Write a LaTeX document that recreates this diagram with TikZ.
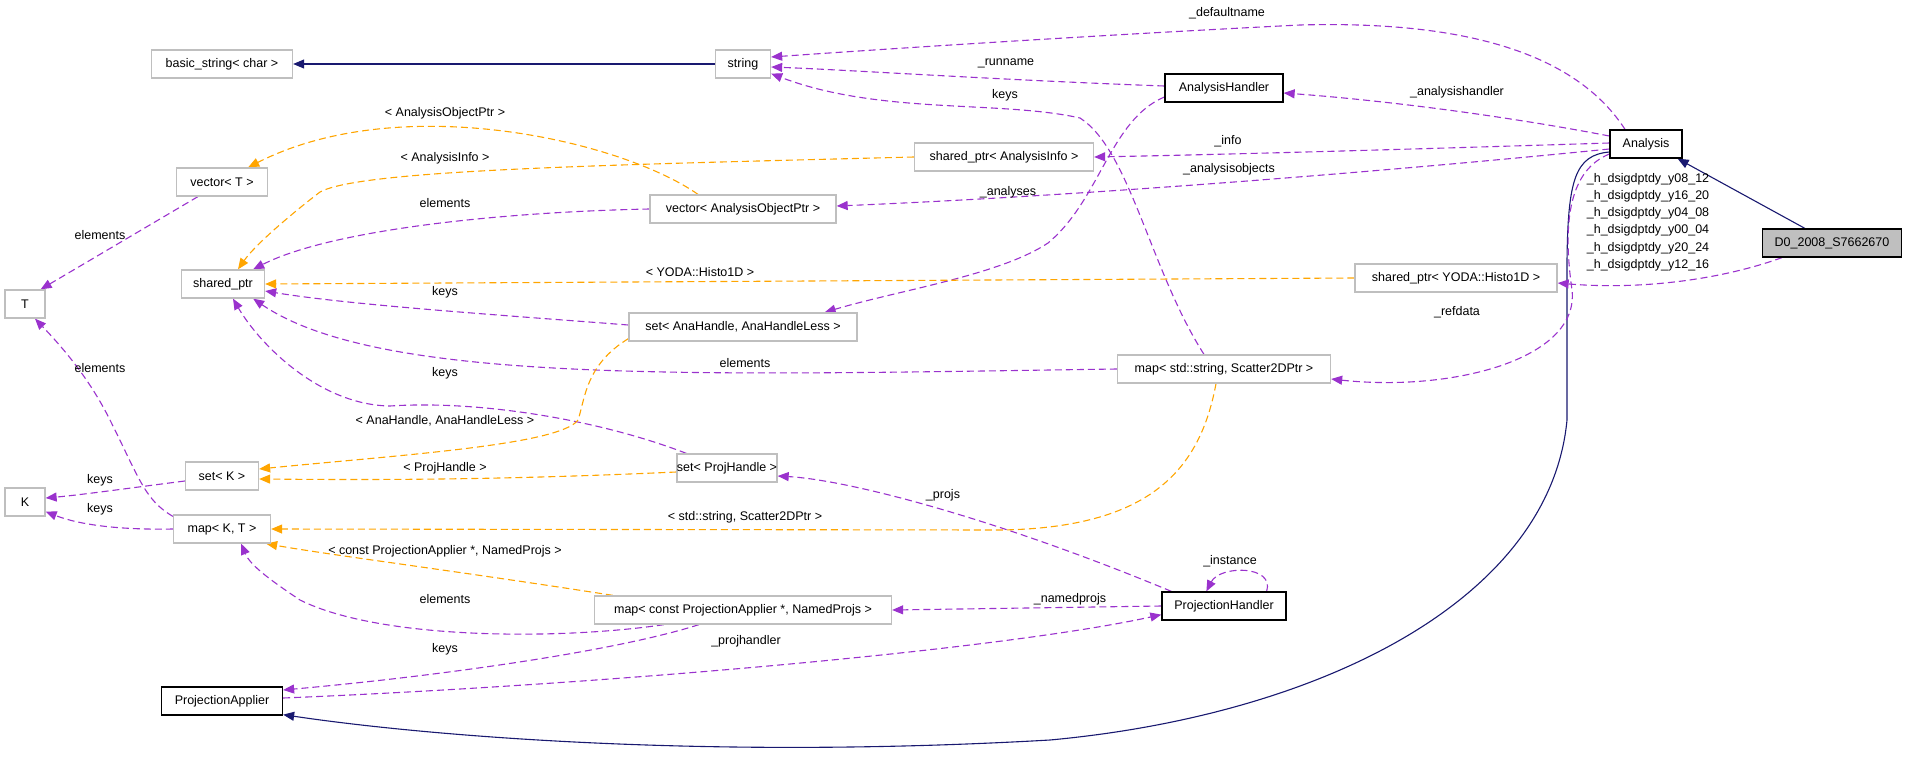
\documentclass[tikz,border=0pt]{standalone}
\usepackage{fontspec}
\setmainfont{Liberation Sans}
\usetikzlibrary{arrows.meta,calc}
\definecolor{pur}{HTML}{9A32CD}
\definecolor{org}{HTML}{FFA500}
\definecolor{nav}{HTML}{191970}
\definecolor{gbox}{HTML}{BFBFBF}
\begin{document}
\begin{tikzpicture}[x=1pt,y=-1pt,
  font=\fontsize{12.5}{14}\selectfont,
  box/.style={draw=gbox,line width=1.3pt,minimum height=28pt,inner sep=0pt,fill=white},
  bbox/.style={draw=black,line width=1.3pt,minimum height=28pt,inner sep=0pt,fill=white},
  tip/.style={-{Triangle[length=11pt,width=9pt]}},
  use/.style={tip,draw=pur,line width=1.1pt,dash pattern=on 7pt off 4pt},
  tpl/.style={tip,draw=org,line width=1.1pt,dash pattern=on 7pt off 4pt},
  inh/.style={tip,draw=nav,line width=1.1pt},
  lbl/.style={inner sep=0pt}]
\useasboundingbox (0,0) rectangle (1907,761);
\node[box,minimum width=141pt] (bs) at (222,64) {basic\_string< char >};
\node[box,minimum width=55pt] (str) at (743,64) {string};
\node[bbox,minimum width=118pt] (ah) at (1224,88) {AnalysisHandler};
\node[bbox,minimum width=72pt] (an) at (1646,144) {Analysis};
\node[bbox,fill=gbox,minimum width=139pt] (d0) at (1832,243) {D0\_2008\_S7662670};
\node[box,minimum width=91pt] (vt) at (222,182) {vector< T >};
\node[box,minimum width=179pt] (spai) at (1004,157) {shared\_ptr< AnalysisInfo >};
\node[box,minimum width=186pt] (vaop) at (743,209) {vector< AnalysisObjectPtr >};
\node[box,minimum width=40pt] (T) at (25,304) {T};
\node[box,minimum width=83pt] (sp) at (223,284) {shared\_ptr};
\node[box,minimum width=202pt] (spy) at (1456,278) {shared\_ptr< YODA::Histo1D >};
\node[box,minimum width=228pt] (sah) at (743,327) {set< AnaHandle, AnaHandleLess >};
\node[box,minimum width=213pt] (mss) at (1224,369) {map< std::string, Scatter2DPtr >};
\node[box,minimum width=73pt] (sk) at (222,476) {set< K >};
\node[box,minimum width=98pt] (sph) at (727,468) {set< ProjHandle >};
\node[box,minimum width=40pt] (K) at (25,502) {K};
\node[box,minimum width=97pt] (mkt) at (222,529) {map< K, T >};
\node[box,minimum width=297pt] (mpa) at (743,610) {map< const ProjectionApplier *, NamedProjs >};
\node[bbox,minimum width=124pt] (ph) at (1224,606) {ProjectionHandler};
\node[bbox,minimum width=121pt] (pa) at (222,701) {ProjectionApplier};

% inheritance
\draw[inh] (str.west) -- (bs.east);
\draw[inh] ($(d0.north west)+(43,0)$) -- ($(an.south east)+(-5,0)$);
\draw[inh] ($(an.west)+(0,8)$) .. controls (1575,155) and (1568,180) .. (1567,260) -- (1567,420)
  .. controls (1550,600) and (1320,715) .. (1050,740) .. controls (700,760) and (420,735) .. ($(pa.south east)+(0,-1)$);

% usage (purple)
\draw[use] ($(an.north)+(-21,0)$) .. controls (1580,60) and (1480,20) .. (1300,25)
  .. controls (1100,35) and (900,48) .. ($(str.east)+(0,-7)$);
\draw[use] ($(ah.west)+(0,-2)$) .. controls (1000,80) and (850,70) .. ($(str.east)+(0,3)$);
\draw[use] ($(mss.north)+(-20,0)$) .. controls (1150,270) and (1130,150) .. (1080,118)
  .. controls (1000,100) and (880,115) .. ($(str.south east)+(0,-5)$);
\draw[use] ($(an.west)+(0,-8)$) .. controls (1500,115) and (1380,100) .. ($(ah.east)+(0,5)$);
\draw[use] ($(an.west)+(0,-1)$) .. controls (1450,148) and (1250,154) .. (spai.east);
\draw[use] ($(an.west)+(0,5)$) .. controls (1400,170) and (1100,195) .. ($(vaop.east)+(0,-3)$);
\draw[use] ($(ah.west)+(0,9)$) .. controls (1110,120) and (1100,200) .. (1048,243)
  .. controls (1000,275) and (900,290) .. ($(sah.north east)+(-33,0)$);
\draw[use] ($(d0.south west)+(20,0)$) .. controls (1720,280) and (1640,290) .. ($(spy.east)+(0,5)$);
\draw[use] ($(an.west)+(0,10)$) .. controls (1570,170) and (1562,220) .. (1572,290)
  .. controls (1580,360) and (1450,392) .. ($(mss.east)+(0,10)$);
\draw[use] (vaop.west) .. controls (500,212) and (330,230) .. ($(sp.north east)+(-12,0)$);
\draw[use] ($(sah.west)+(0,-2)$) .. controls (500,315) and (350,305) .. ($(sp.east)+(0,7)$);
\draw[use] (mss.west) .. controls (700,375) and (380,385) .. ($(sp.south east)+(-12,0)$);
\draw[use] ($(sph.north west)+(10,0)$) .. controls (600,420) and (480,400) .. (390,406)
  .. controls (320,405) and (260,345) .. ($(sp.south)+(10,0)$);
\draw[use] ($(vt.south west)+(22,0)$) -- ($(T.north east)+(-5,0)$);
\draw[use] ($(mkt.north west)+(0,2)$) .. controls (145,500) and (140,480) .. (110,420)
  .. controls (90,380) and (65,350) .. ($(T.south)+(10,0)$);
\draw[use] ($(sk.west)+(0,5)$) .. controls (130,488) and (80,495) .. ($(K.east)+(0,-4)$);
\draw[use] (mkt.west) .. controls (120,530) and (80,525) .. ($(K.south east)+(0,-5)$);
\draw[use] ($(mpa.south west)+(70,0)$) .. controls (560,640) and (380,640) .. (300,600)
  .. controls (270,580) and (250,565) .. ($(mkt.south east)+(-30,0)$);
\draw[use] ($(mpa.south west)+(105,0)$) .. controls (620,650) and (450,675) .. ($(pa.east)+(0,-11)$);
\draw[use] ($(pa.east)+(0,-3)$) .. controls (600,685) and (1000,650) .. ($(ph.south west)+(0,-6)$);
\draw[use] (ph.west) -- (mpa.east);
\draw[use] ($(ph.north west)+(10,0)$) .. controls (1000,520) and (850,480) .. ($(sph.east)+(0,8)$);
\draw[use] ($(ph.north east)+(-20,0)$) .. controls (1275,565) and (1220,565) .. ($(ph.north west)+(45,0)$);

% templates (orange)
\draw[tpl] ($(vaop.north)+(-45,0)$) .. controls (620,140) and (400,90) .. ($(vt.north east)+(-20,0)$);
\draw[tpl] (spai.west) .. controls (600,165) and (360,170) .. (320,192)
  .. controls (290,215) and (255,245) .. ($(sp.north)+(15,0)$);
\draw[tpl] (spy.west) -- (sp.east);
\draw[tpl] ($(sah.south west)+(0,-3)$) .. controls (585,365) and (585,400) .. (578,420)
  .. controls (560,445) and (400,455) .. ($(sk.east)+(0,-7)$);
\draw[tpl] ($(sph.west)+(0,4)$) .. controls (500,480) and (380,480) .. ($(sk.east)+(0,3)$);
\draw[tpl] ($(mss.south)+(-8,0)$) .. controls (1200,470) and (1150,528) .. (1000,530) -- (mkt.east);
\draw[tpl] ($(mpa.north west)+(19,0)$) .. controls (450,570) and (330,555) .. ($(mkt.south east)+(-5,0)$);

% redraw node boxes on top of the connectors
\node[box,minimum width=141pt] at (bs) {basic\_string< char >};
\node[box,minimum width=55pt] at (str) {string};
\node[bbox,minimum width=118pt] at (ah) {AnalysisHandler};
\node[bbox,minimum width=72pt] at (an) {Analysis};
\node[bbox,fill=gbox,minimum width=139pt] at (d0) {D0\_2008\_S7662670};
\node[box,minimum width=91pt] at (vt) {vector< T >};
\node[box,minimum width=179pt] at (spai) {shared\_ptr< AnalysisInfo >};
\node[box,minimum width=186pt] at (vaop) {vector< AnalysisObjectPtr >};
\node[box,minimum width=40pt] at (T) {T};
\node[box,minimum width=83pt] at (sp) {shared\_ptr};
\node[box,minimum width=202pt] at (spy) {shared\_ptr< YODA::Histo1D >};
\node[box,minimum width=228pt] at (sah) {set< AnaHandle, AnaHandleLess >};
\node[box,minimum width=213pt] at (mss) {map< std::string, Scatter2DPtr >};
\node[box,minimum width=73pt] at (sk) {set< K >};
\node[box,minimum width=98pt] at (sph) {set< ProjHandle >};
\node[box,minimum width=40pt] at (K) {K};
\node[box,minimum width=97pt] at (mkt) {map< K, T >};
\node[box,minimum width=297pt] at (mpa) {map< const ProjectionApplier *, NamedProjs >};
\node[bbox,minimum width=124pt] at (ph) {ProjectionHandler};
\node[bbox,minimum width=121pt] at (pa) {ProjectionApplier};

% labels
\node[lbl] (l1) at (1227,13) {\_defaultname};
\node[lbl] (l2) at (1006,63) {\_runname};
\node[lbl] (l3) at (1005,95) {keys};
\node[lbl] (l4) at (1457,92) {\_analysishandler};
\node[lbl] (l5) at (1228,141) {\_info};
\node[lbl] (l6) at (1229,169) {\_analysisobjects};
\node[lbl] (l7) at (1008,192) {\_analyses};
\node[lbl,align=left,font=\fontsize{12.5}{17.2}\selectfont] (l8) at (1648,222) {\_h\_dsigdptdy\_y08\_12\\\_h\_dsigdptdy\_y16\_20\\\_h\_dsigdptdy\_y04\_08\\\_h\_dsigdptdy\_y00\_04\\\_h\_dsigdptdy\_y20\_24\\\_h\_dsigdptdy\_y12\_16};
\node[lbl] (l9) at (1457,312) {\_refdata};
\node[lbl] (l10) at (445,113) {< AnalysisObjectPtr >};
\node[lbl] (l11) at (445,158) {< AnalysisInfo >};
\node[lbl] (l12) at (445,203) {elements};
\node[lbl] (l13) at (100,235) {elements};
\node[lbl] (l14) at (700,272) {< YODA::Histo1D >};
\node[lbl] (l15) at (445,292) {keys};
\node[lbl] (l16) at (745,363) {elements};
\node[lbl] (l17) at (100,368) {elements};
\node[lbl] (l18) at (445,373) {keys};
\node[lbl] (l19) at (445,421) {< AnaHandle, AnaHandleLess >};
\node[lbl] (l20) at (445,468) {< ProjHandle >};
\node[lbl] (l21) at (100,480) {keys};
\node[lbl] (l22) at (100,509) {keys};
\node[lbl] (l23) at (745,517) {< std::string, Scatter2DPtr >};
\node[lbl] (l24) at (445,551) {< const ProjectionApplier *, NamedProjs >};
\node[lbl] (l25) at (943,495) {\_projs};
\node[lbl] (l26) at (1230,561) {\_instance};
\node[lbl] (l27) at (445,599) {elements};
\node[lbl] (l28) at (1070,599) {\_namedprojs};
\node[lbl] (l29) at (746,641) {\_projhandler};
\node[lbl] (l30) at (445,649) {keys};
\end{tikzpicture}
\end{document}
